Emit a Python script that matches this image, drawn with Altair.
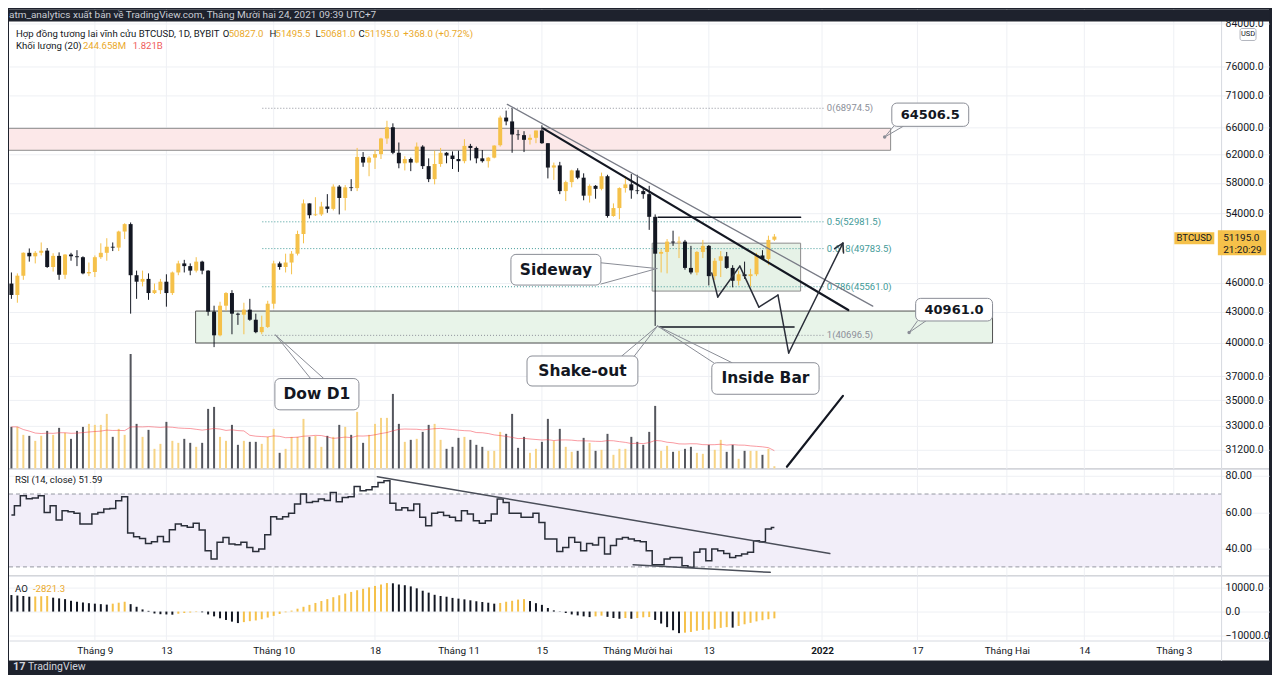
import altair as alt
import numpy as np
import pandas as pd

# ---------------- values ----------------
first_day, last_day = "2021-08-18", "2021-12-24"

opens = [45900, 44700, 46750, 49300, 48900, 49300, 49550, 47700, 48950, 46850,
         49100, 48900, 48800, 47000, 47150, 48800, 49300, 50000, 49900, 51800,
         52700, 46800, 46100, 46400, 44900, 45200, 46100, 44900, 47100, 48100,
         47800, 47300, 48300, 47300, 43000, 40700, 43600, 44900, 42800, 42700,
         43200, 42200, 41000, 41500, 43800, 48100, 47700, 48200, 49200, 51500,
         55300, 53800, 53900, 54900, 54600, 57500, 56000, 57400, 57300, 61600,
         60800, 61500, 62000, 64300, 66000, 62200, 60700, 61300, 60800, 63100,
         60300, 58500, 60600, 62200, 61800, 61300, 61000, 63200, 62900, 61400,
         61000, 61500, 63300, 67500, 66900, 64900, 64800, 64100, 64400, 65500,
         63600, 60100, 60400, 56900, 58100, 59700, 58700, 56300, 57600, 57200,
         58900, 53700, 54700, 57300, 57800, 57000, 56900, 56500, 53600, 49200,
         49400, 50600, 50500, 50600, 47600, 47100, 49400, 50100, 46700, 48400,
         48900, 47600, 46200, 46900, 46700, 46900, 49000, 48600, 50827]
highs = [47100, 47000, 49350, 49800, 49500, 50500, 49850, 49250, 49350, 49150,
         49300, 49600, 48900, 48200, 49000, 50400, 51000, 50500, 51900, 52800,
         52900, 47300, 47300, 47000, 45900, 46400, 46900, 47200, 48400, 48500,
         48100, 48800, 48400, 47350, 43600, 44000, 45000, 45200, 42900, 43900,
         44300, 42800, 42600, 44100, 48400, 48300, 49200, 49500, 51900, 55800,
         55300, 56100, 55500, 56500, 57800, 57700, 57700, 58500, 62900, 62300,
         61700, 62600, 64400, 67000, 66600, 63700, 61700, 61500, 63700, 63300,
         61400, 62500, 62900, 62300, 62400, 62500, 64200, 63500, 63100, 62600,
         61600, 63300, 67800, 68600, 68975, 65600, 65400, 64900, 65500, 66300,
         63600, 60800, 60900, 58300, 59800, 60000, 59300, 57800, 57700, 59400,
         59100, 55300, 57400, 58900, 59200, 59100, 57400, 57600, 53900, 49700,
         50900, 51900, 51200, 50800, 50100, 49500, 50800, 50200, 48700, 49500,
         49400, 47900, 47300, 48300, 47500, 49300, 49600, 51300, 51495.5]
lows = [44300, 43900, 46300, 48300, 48100, 49000, 47600, 47200, 46300, 46400,
        48400, 47800, 46900, 46700, 46600, 48600, 48400, 49500, 49500, 50900,
        42800, 44300, 45600, 44200, 44800, 44800, 43500, 44700, 46800, 47100,
        46800, 47100, 46900, 42600, 39600, 40600, 43100, 40800, 41700, 40800,
        42100, 40900, 40800, 41400, 43300, 47400, 47100, 46900, 49000, 50400,
        53400, 53700, 53700, 54100, 54400, 53900, 54400, 56900, 56900, 60200,
        58900, 59900, 61300, 63500, 62000, 60000, 59700, 59600, 60700, 59900,
        58100, 57800, 60200, 60700, 59900, 59500, 60700, 61100, 60700, 60800,
        60100, 61400, 63100, 66300, 62200, 64100, 62300, 63400, 63600, 63500,
        58600, 58400, 56500, 55600, 57400, 58500, 55700, 55400, 55900, 57000,
        53500, 53600, 53300, 56700, 55900, 56500, 55900, 52000, 41600, 47100,
        47000, 50100, 48700, 47400, 46900, 46800, 48700, 45700, 46300, 46600,
        47500, 45500, 45700, 46400, 45600, 46700, 48500, 47900, 50681]
closes = [44700, 46750, 49300, 48900, 49300, 49550, 47700, 48950, 46850, 49100,
          48900, 48800, 47000, 47150, 48800, 49300, 50000, 49900, 51800, 52700,
          46800, 46100, 46400, 44900, 45200, 46100, 44900, 47100, 48100, 47800,
          47300, 48300, 47300, 43000, 40700, 43600, 44900, 42800, 42700, 43200,
          42200, 41000, 41500, 43800, 48100, 47700, 48200, 49200, 51500, 55300,
          53800, 53900, 54900, 54600, 57500, 56000, 57400, 57300, 61600, 60800,
          61500, 62000, 64300, 66000, 62200, 60700, 61300, 60800, 63100, 60300,
          58500, 60600, 62200, 61800, 61300, 61000, 63200, 62900, 61400, 61000,
          61500, 63250, 67500, 66900, 64900, 64800, 64100, 64400, 65500, 63600,
          60100, 60400, 56900, 58100, 59700, 58700, 56300, 57600, 57200, 58900,
          53700, 54700, 57300, 57800, 57000, 56900, 56500, 53600, 49200, 49400,
          50600, 50500, 50600, 47600, 47100, 49400, 50100, 46700, 48400, 48900,
          47600, 46200, 46900, 46700, 46900, 49000, 48600, 50800, 51195]
volume_m = [3990, 3990, 3230, 3135, 2660, 3135, 3610, 3230, 3895, 3420,
            2850, 3610, 3990, 4275, 4180, 4180, 5225, 3040, 3800, 3230,
            10925, 4275, 3040, 3705, 1900, 2375, 4465, 2660, 2470, 2850,
            2470, 2090, 2470, 5700, 5890, 3040, 2660, 4180, 2280, 2660,
            2565, 2565, 2375, 3040, 3800, 1520, 1900, 3040, 3040, 4750,
            3040, 3135, 2090, 3135, 3040, 4180, 3990, 3230, 5415, 2470,
            3230, 4275, 4845, 4845, 7125, 4275, 2565, 2755, 2850, 3515,
            4180, 4275, 2755, 1900, 2090, 2945, 3040, 2755, 2280, 2090,
            1710, 1710, 3515, 3325, 5225, 1995, 3040, 1520, 1900, 2565,
            4750, 2660, 3800, 2090, 1615, 1710, 2945, 2470, 1710, 1805,
            3325, 1330, 1900, 1900, 3040, 2565, 2280, 3515, 5985, 1710,
            2185, 1615, 1710, 1900, 2090, 1520, 1425, 2280, 1805, 2755,
            1615, 2280, 950, 1710, 1710, 1710, 1330, 1900, 244.658]
rsi_14 = [58.5, 63.6, 69.0, 67.4, 67.8, 69.0, 59.9, 63.6, 55.7, 60.8,
          60.3, 59.5, 53.5, 53.5, 59.0, 59.9, 61.8, 62.1, 66.3, 68.5,
          48.6, 46.6, 45.6, 42.9, 43.8, 46.7, 43.8, 50.4, 53.5, 52.6,
          51.7, 53.9, 50.3, 38.9, 34.4, 43.5, 46.2, 42.6, 42.2, 43.5,
          40.7, 38.5, 39.8, 47.7, 57.5, 56.3, 57.5, 59.4, 64.5, 70.0,
          65.4, 65.9, 67.2, 66.5, 70.9, 65.8, 68.1, 68.5, 74.1, 71.8,
          72.3, 74.0, 76.3, 77.3, 65.0, 61.2, 62.5, 61.0, 64.5, 57.2,
          52.6, 59.4, 60.0, 58.2, 57.2, 55.3, 60.8, 59.0, 55.3, 53.9,
          55.3, 59.0, 67.2, 65.4, 59.4, 59.4, 57.2, 57.2, 59.4, 54.4,
          45.3, 45.3, 38.4, 40.7, 46.2, 43.5, 38.9, 42.9, 42.0, 46.2,
          37.1, 41.8, 45.3, 46.2, 45.3, 44.4, 43.8, 38.9, 31.2, 31.2,
          34.4, 35.2, 35.2, 30.7, 29.8, 38.0, 39.8, 33.4, 39.8, 38.9,
          37.4, 35.2, 36.1, 37.1, 38.0, 44.4, 43.8, 50.8, 51.59]
ao_vals = [6900, 6700, 6500, 6200, 6300, 6400, 6500, 5800, 5500, 5200,
           4500, 4100, 3800, 3500, 3300, 3100, 2900, 3300, 3700, 4100,
           3100, 2000, 900, 300, -800, -1100, -1200, -1300, -900, -600,
           -400, -200, -300, -1200, -2000, -2800, -3500, -4200, -4800, -4400,
           -4000, -3700, -3200, -2500, -1800, -1000, -300, 400, 1200, 2000,
           2800, 3600, 4400, 5200, 6000, 6800, 7500, 8200, 8900, 9500,
           10100, 10700, 11300, 11900, 11800, 11300, 11000, 10500, 9700, 8700,
           7900, 7000, 6500, 6200, 5700, 5400, 5100, 4700, 4300, 4000,
           3700, 3300, 3600, 4100, 4500, 5000, 5200, 4400, 3500, 2800,
           1500, 500, 100, -600, -1200, -1600, -2000, -2300, -2000, -1700,
           -2200, -2700, -3000, -2700, -3000, -2700, -2400, -2300, -3500, -5000,
           -6500, -7800, -9000, -8800, -8500, -8000, -7700, -7500, -7200, -6800,
           -6500, -6700, -6000, -5300, -4700, -4100, -3600, -3200, -2821.3]
volume_ma_last = "1.821B"

time_tick_days = [0, 12, 30, 47, 61, 75, 91, 103, 122, 138, 153, 166, 181]   # days after 1 Sep 2021
time_tick_labels = ["Tháng 9", "13", "Tháng 10", "18", "Tháng 11", "15", "Tháng Mười hai",
                    "13", "2022", "17", "Tháng Hai", "14", "Tháng 3"]
price_ticks = [84000, 76000, 71000, 66000, 62000, 58000, 54000, 46000, 43000,
               40000, 37000, 35000, 33000, 31200]
rsi_ticks = [40, 60, 80]
ao_ticks = [-10000, 0, 10000]

fib_names = ["0", "0.5", "0.618", "0.786", "1"]
fib_prices = [68974.5, 52981.5, 49783.5, 45561.0, 40696.5]
fib_days = (28.1, 122.3)

# zones: day from, day to, price top, price bottom
resistance_zone = (-30, 133.5, 65834, 62560)
support_zone = (16.9, 150.6, 43061, 39981)
sideway_zone = (93.5, 118.4, 50417, 45105)

# drawings: (day, price) pairs
trend_thin = [((69.2, 69600), (130.5, 43560))]
trend_bold = [((75.2, 65834), (126.4, 43160))]
mother_bar = [((94.5, 53550), (118.4, 53550)), ((94.7, 41490), (117.3, 41490))]
path_days = [103.5, 104.5, 108.2, 111.4, 114.6, 116.4, 125.5]
path_prices = [47030, 44490, 47800, 43460, 44690, 39060, 50420]
arrow_wings = [(124.1, 49770), (125.6, 49270)]
bottom_leg = [((116.1, 29990), (125.5, 35360))]

callout_text = ["64506.5", "40961.0", "Sideway", "Shake-out", "Inside Bar", "Dow D1"]
callout_box = [(133.7, 146.6, 69810, 66140), (137.7, 150.6, 44350, 42080),
               (69.8, 84.9, 49120, 45740), (72.5, 91.1, 38790, 36180),
               (103.5, 121.5, 38190, 35490), (30.2, 44.3, 36810, 34230)]
callout_anchor = [(132.5, 64506.5), (136.6, 40961.0), (94.3, 47530), (94.4, 41590),
                  (94.4, 41590), (30.3, 40730)]
callout_base = [((134.0, 66140), (135.6, 66140)), ((138.0, 42080), (139.4, 42080)),
                ((84.9, 48170), (84.9, 45850)), ((88.4, 38790), (90.5, 38790)),
                ((103.8, 38190), (106.9, 38190)), ((36.2, 36810), (38.4, 36810))]

rsi_resistance = [((47.4, 79.5), (123.3, 37.3))]
rsi_support = [((90.3, 31.2), (113.3, 27.0))]

# ---------------- styles / layout ----------------
DARK = "#1e222d"
UP, DN = "#f5c14a", "#131722"
VUP, VDN = "#f6d384", "#54565d"
GRID = "#eef0f4"
SEP = "#d6d9e0"
TXT = "#131722"
YEL = "#eaa92a"
W, AXW = 1262, 48
PLOT_W = W - AXW
H1, H2, H3 = 460, 107, 85
XS = alt.Scale(domain=[-14.405, 196.98], nice=False, zero=False, padding=0)
PS = alt.Scale(type="log", domain=[29848, 86761], nice=False, zero=False, padding=0)
VS = alt.Scale(domain=[0, 43700], nice=False, zero=True, padding=0)
RS = alt.Scale(domain=[25.21, 83.84], nice=False, zero=False, padding=0)
AS = alt.Scale(domain=[-20417, 15000], nice=False, zero=False, padding=0)
ONE = pd.DataFrame({"k": [0]})


def right_axis(values, fmt):
    return alt.Axis(orient="right", offset=-AXW, values=values, format=fmt, grid=True,
                    gridColor=GRID, ticks=False, labelPadding=4, domainColor=SEP,
                    labelColor=TXT, labelFontSize=10.5, labelFont="Roboto", title=None,
                    labelOverlap=False, labelFlush=False)


PAX = right_axis(price_ticks, ".1f")
RAX = right_axis(rsi_ticks, ".2f")
AAX = right_axis(ao_ticks, ".1f")
label_expr = " : ".join(f"datum.value == {d} ? '{t}'" for d, t in zip(time_tick_days, time_tick_labels)) + " : ''"
TAX = alt.Axis(orient="bottom", offset=-20, values=time_tick_days, labelExpr=label_expr, ticks=False,
               grid=False, domainColor=SEP, labelColor=TXT, labelFontSize=10, labelFont="Roboto",
               labelPadding=5, title=None, labelFlush=False, labelOverlap=False,
               labelFontWeight={"condition": {"test": "datum.value == 122", "value": "bold"},
                                "value": "normal"})


def X(field="d", axis=None):
    return alt.X(f"{field}:Q", scale=XS, axis=axis)


def Yp(field):
    return alt.Y(f"{field}:Q", scale=PS, axis=PAX)


def ui_text(text, x, y, color=TXT, size=10, weight="normal", font="Roboto", align="left"):
    return alt.Chart(ONE).mark_text(text=text, align=align, baseline="middle", fontSize=size,
                                    fontWeight=weight, font=font, color=color).encode(
        x=alt.value(x), y=alt.value(y))


def segs(pairs, scale, yaxis, color, width):
    df = pd.DataFrame([dict(d1=a[0], p1=a[1], d2=b[0], p2=b[1]) for a, b in pairs])
    return alt.Chart(df).mark_rule(color=color, strokeWidth=width, strokeCap="round").encode(
        x=X("d1"), x2="d2", y=alt.Y("p1:Q", scale=scale, axis=yaxis), y2="p2:Q")


def vgrid(h, xaxis=None):
    return alt.Chart(pd.DataFrame({"d": time_tick_days})).mark_rule(color=GRID).encode(
        x=X(axis=xaxis), y=alt.value(0), y2=alt.value(h))


def zone(z, fill, stroke):
    df = pd.DataFrame([dict(d1=z[0], d2=z[1], top=z[2], bot=z[3])])
    return alt.Chart(df).mark_rect(fill=fill, stroke=stroke, strokeWidth=1, clip=True).encode(
        x=X("d1"), x2="d2", y=Yp("top"), y2="bot:Q")


dates = pd.date_range(first_day, last_day, freq="D")
day_num = np.asarray((dates - pd.Timestamp("2021-09-01")).days, dtype=float)

cdf = pd.DataFrame(dict(d=day_num, o=opens, h=highs, l=lows, c=closes, v=volume_m))
up = cdf.c >= cdf.o
cdf["col"] = np.where(up, UP, DN)
cdf["vcol"] = np.where(up, VUP, VDN)

# ---------------- pane 1: price + volume ----------------
vol_group = alt.layer(
    vgrid(H1),
    alt.Chart(cdf).mark_bar(size=2).encode(
        x=X(), y=alt.Y("v:Q", scale=VS, axis=None), color=alt.Color("vcol:N", scale=None)),
    alt.Chart(cdf).transform_window(ma="mean(v)", frame=[-19, 0], sort=[alt.SortField("d")])
    .mark_line(color="#f23645", strokeWidth=1, opacity=0.5).encode(
        x=X(), y=alt.Y("ma:Q", scale=VS, axis=None)),
)

fdf = pd.DataFrame(dict(name=fib_names, p=fib_prices))
fdf["label"] = [f"{n}({p:.1f})" for n, p in zip(fib_names, fib_prices)]
fdf["d1"], fdf["d2"] = fib_days
fdf["col"] = np.where(fdf["name"].isin(["0.5", "0.618", "0.786"]), "#3f9a98", "#8c8f99")

path_pairs = [((path_days[i], path_prices[i]), (path_days[i + 1], path_prices[i + 1]))
              for i in range(len(path_days) - 1)]
tip = (path_days[-1], path_prices[-1])
path_pairs += [(tip, w) for w in arrow_wings]

cb = pd.DataFrame([dict(text=t, d1=b[0], d2=b[1], top=b[2], bot=b[3]) for t, b in zip(callout_text, callout_box)])
cb["tx"] = (cb.d1 + cb.d2) / 2
cb["ty"] = np.sqrt(cb.top * cb.bot)
cb["fs"] = [13 if t[0].isdigit() else 15.5 for t in callout_text]
tail_pairs = []
for anc, bases in zip(callout_anchor, callout_base):
    for b in bases:
        tail_pairs.append((b, anc))
dots = pd.DataFrame([dict(d=a[0], p=a[1]) for a in callout_anchor[:2]])

last = len(closes) - 1
chg = closes[last] - opens[last]
pct = chg / opens[last] * 100
tag_df = pd.DataFrame([dict(d=189.3, p=closes[last])])

price_group = alt.layer(
    zone(resistance_zone, "#fce8e9", "#8c8c8c"),
    zone(support_zone, "#e8f4e9", "#505050"),
    zone(sideway_zone, "#e6f2e7", "#8c8c8c"),
    alt.Chart(fdf).mark_rule(strokeDash=[1, 2], strokeWidth=1).encode(
        x=X("d1"), x2="d2", y=Yp("p"), color=alt.Color("col:N", scale=None)),
    alt.Chart(fdf).mark_text(align="left", baseline="middle", fontSize=9.5, font="Roboto", dx=3).encode(
        x=X("d2"), y=Yp("p"), text="label:N", color=alt.Color("col:N", scale=None)),
    alt.Chart(cdf).mark_rule(strokeWidth=1).encode(
        x=X(), y=Yp("l"), y2="h:Q", color=alt.Color("col:N", scale=None)),
    alt.Chart(cdf).mark_bar(size=4).encode(
        x=X(), y=Yp("o"), y2="c:Q", color=alt.Color("col:N", scale=None)),
    segs(trend_thin, PS, PAX, "#787b86", 1.3),
    segs(trend_bold, PS, PAX, "#131722", 2.2),
    segs(mother_bar, PS, PAX, "#131722", 1.5),
    segs(path_pairs, PS, PAX, "#2a2e39", 1.5),
    segs(bottom_leg, PS, PAX, "#131722", 2.2),
    segs(tail_pairs, PS, PAX, "#8a8d96", 1),
    alt.Chart(dots).mark_circle(size=12, color="#8a8d96", opacity=1).encode(x=X("d"), y=Yp("p")),
    alt.Chart(cb).mark_rect(fill="white", stroke="#8a8d96", strokeWidth=1, cornerRadius=5).encode(
        x=X("d1"), x2="d2", y=Yp("top"), y2="bot:Q"),
    alt.Chart(cb).mark_text(font="DejaVu Sans", fontWeight="bold", color=TXT, baseline="middle",
                            align="center").encode(
        x=X("tx"), y=Yp("ty"), text="text:N", size=alt.Size("fs:Q", scale=None)),
    # current price tag and symbol tag
    alt.Chart(pd.DataFrame([dict(d1=188.4, d2=196.5, top=51961, bot=49033),
                            dict(d1=181.1, d2=187.8, top=51724, bot=50300)])).mark_rect(color=UP).encode(
        x=X("d1"), x2="d2", y=Yp("top"), y2="bot:Q"),
    alt.Chart(tag_df).mark_text(text=f"{closes[last]:.1f}", align="left", baseline="middle", fontSize=10,
                                font="Roboto", color=TXT, dy=1.5).encode(x=X("d"), y=Yp("p")),
    alt.Chart(tag_df).mark_text(text="21:20:29", align="left", baseline="middle", fontSize=10,
                                font="Roboto", color=TXT, dy=13.5).encode(x=X("d"), y=Yp("p")),
    alt.Chart(pd.DataFrame([dict(d=184.45, p=closes[last])])).mark_text(
        text="BTCUSD", align="center", baseline="middle", fontSize=9.5, font="Roboto", color=TXT,
        dy=1.5).encode(x=X("d"), y=Yp("p")),
    # header band and legend texts
    alt.Chart(ONE).mark_rect(color=DARK).encode(x=alt.value(0), x2=alt.value(W), y=alt.value(0), y2=alt.value(12)),
    ui_text("atm_analytics xuất bản về TradingView.com, Tháng Mười hai 24, 2021 09:39 UTC+7", 0, 5.5,
            color="#c9ccd4", size=10),
    alt.Chart(ONE).mark_rect(fill="white", stroke="#b2b5be", cornerRadius=2).encode(
        x=alt.value(1233), x2=alt.value(1249), y=alt.value(19), y2=alt.value(31)),
    ui_text("USD", 1241, 25, size=7.5, align="center"),
    ui_text("Hợp đồng tương lai vĩnh cửu BTCUSD, 1D, BYBIT", 7, 25, size=9.6),
    ui_text("O", 214, 25, size=9.6), ui_text(f"{opens[last]:.1f}", 220, 25, color=YEL, size=9.6),
    ui_text("H", 261, 25, size=9.6), ui_text(f"{highs[last]:.1f}", 267, 25, color=YEL, size=9.6),
    ui_text("L", 307, 25, size=9.6), ui_text(f"{lows[last]:.1f}", 312, 25, color=YEL, size=9.6),
    ui_text("C", 350, 25, size=9.6), ui_text(f"{closes[last]:.1f}", 356, 25, color=YEL, size=9.6),
    ui_text(f"+{chg:.1f} (+{pct:.2f}%)", 395, 25, color=YEL, size=9.6),
    ui_text("Khối lượng (20)", 7, 37, size=9.6),
    ui_text(f"{volume_m[last]:.3f}M", 74, 37, color=YEL, size=9.6),
    ui_text(volume_ma_last, 124, 37, color="#ef5a5a", size=9.6),
)

pane1 = alt.layer(vol_group, price_group).resolve_scale(y="independent").properties(width=W, height=H1)

# ---------------- pane 2: RSI ----------------
rdf = pd.DataFrame(dict(d=day_num, rsi=rsi_14))
pane2 = alt.layer(
    vgrid(H2),
    alt.Chart(pd.DataFrame(dict(lo=[30], hi=[70]))).mark_rect(color="#f2eef9").encode(
        x=alt.value(0), x2=alt.value(PLOT_W), y=alt.Y("hi:Q", scale=RS, axis=RAX), y2="lo:Q"),
    alt.Chart(pd.DataFrame(dict(lv=[70, 30]))).mark_rule(color="#9598a1", strokeDash=[4, 3]).encode(
        x=alt.value(0), x2=alt.value(PLOT_W), y=alt.Y("lv:Q", scale=RS, axis=RAX)),
    alt.Chart(rdf).mark_line(interpolate="step", color="#2a2e39", strokeWidth=1.5).encode(
        x=X(), y=alt.Y("rsi:Q", scale=RS, axis=RAX)),
    segs(rsi_resistance, RS, RAX, "#4a4e59", 1.5),
    segs(rsi_support, RS, RAX, "#4a4e59", 1.5),
    alt.Chart(ONE).mark_rule(color=SEP).encode(x=alt.value(0), x2=alt.value(W), y=alt.value(0.5)),
    ui_text(f"RSI (14, close)  {rsi_14[-1]:.2f}", 6, 11, size=9.6),
).properties(width=W, height=H2)

# ---------------- pane 3: AO + time axis ----------------
adf = pd.DataFrame(dict(d=day_num, ao=ao_vals))
adf["col"] = np.where(adf.ao.diff() > 0, UP, DN)
adf["z"] = 0.0
pane3 = alt.layer(
    vgrid(H3 - 20, TAX),
    alt.Chart(adf).mark_rule(strokeWidth=2).encode(
        x=X(axis=TAX), y=alt.Y("ao:Q", scale=AS, axis=AAX), y2="z:Q", color=alt.Color("col:N", scale=None)),
    alt.Chart(ONE).mark_rule(color=SEP).encode(x=alt.value(0), x2=alt.value(W), y=alt.value(0.5)),
    ui_text("AO", 6, 13, size=9.6),
    ui_text(f"{ao_vals[-1]:.1f}", 24, 13, color=YEL, size=9.6),
    ui_text("17", 4, 92, color="#d1d4dc", size=11, weight="bold"),
    ui_text("TradingView", 19, 92, color="#d1d4dc", size=10.5),
).properties(width=W, height=H3)

chart = alt.vconcat(pane1, pane2, pane3, spacing=0, bounds="flush").properties(
    background=DARK, padding={"left": 0, "top": 0, "right": 2, "bottom": 1}
).configure_view(stroke=None, fill="white")

chart.save("out.html", embed_options={"renderer": "svg", "actions": False})
